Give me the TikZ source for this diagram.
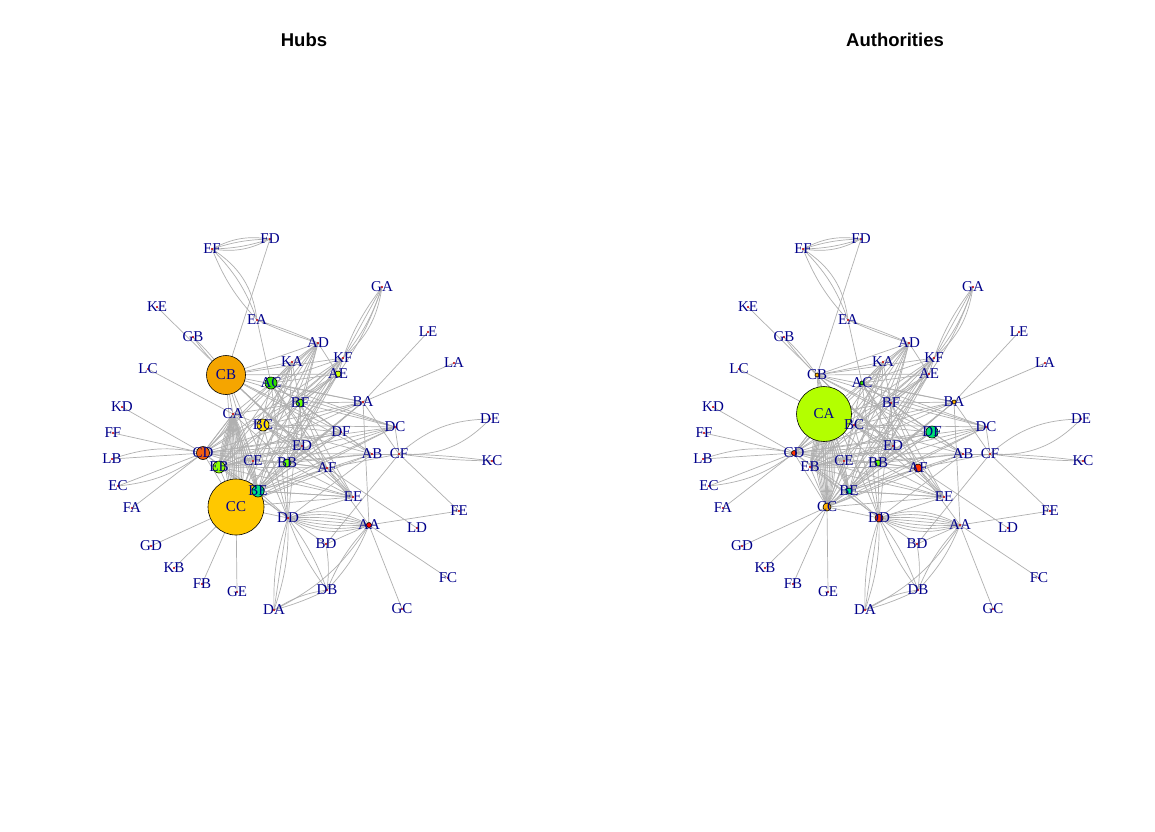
\documentclass[tikz,border=0pt]{standalone}
\usepackage{fontspec}
\setmainfont{Liberation Serif}
\newfontfamily\titlefont{Liberation Sans}
\definecolor{edgegray}{HTML}{B0B0B0}
\definecolor{lblblue}{HTML}{00008B}
\definecolor{hCB}{HTML}{F5A500}
\definecolor{hCC}{HTML}{FFC800}
\definecolor{hCD}{HTML}{F06010}
\definecolor{hAC}{HTML}{33E000}
\definecolor{hBC}{HTML}{FFE000}
\definecolor{hEB}{HTML}{8CFF00}
\definecolor{hBE}{HTML}{00E080}
\definecolor{hBF}{HTML}{66FF00}
\definecolor{hAE}{HTML}{CCFF00}
\definecolor{aCA}{HTML}{B3FF00}
\definecolor{aDF}{HTML}{00E070}
\definecolor{aRed}{HTML}{FF3300}
\definecolor{aOr}{HTML}{FFB000}
\tikzset{
  edge/.style={draw=edgegray, line width=0.7pt},
  tinyv/.style={circle, inner sep=0pt, minimum size=2.4pt, fill=red!80!black},
  vtx/.style={circle, draw=black, line width=0.6pt, inner sep=0pt},
  lbl/.style={text=lblblue, font=\fontsize{15}{15}\selectfont, inner sep=0pt},
  ttl/.style={font=\titlefont\bfseries\fontsize{18.5}{20}\selectfont, inner sep=0pt}
}
\newcommand\mynodelist{EF/212/249, FD/270/239, KE/157/307, GB/193/337, EA/257/320, AD/318/343, GA/382/287, LE/428/332, LA/454/363, KA/292/362, KF/343/358, AE/338/374, LC/148/369, CB/226/375, AC/271/383, BA/363/402, BF/300/403, KD/122/407, CA/233/414, BC/263/425, DC/395/427, DE/490/419, DF/341/432, FF/113/433, ED/302/446, CD/203/453, AB/372/454, CF/399/454, KC/492/461, LB/112/459, EB/219/467, CE/253/461, BB/287/463, AF/327/468, EC/118/486, BE/258/491, EE/353/497, CC/236/507, FA/132/508, FE/459/511, DD/288/518, AA/369/525, LD/417/528, GD/151/546, BD/326/544, KB/174/568, FC/448/578, FB/202/584, GE/237/592, DB/327/590, DA/274/610, GC/402/609}
\newcommand\myedgelist{EF/FD/8, EF/FD/18, EF/FD/-8, EF/FD/-18, EF/EA/25, EF/EA/12, EF/EA/-10, FD/CB/0, EA/AC/0, EA/AD/3, EA/AD/-3, KE/CB/0, GB/CB/5, GB/CB/-5, LC/CA/0, KD/CD/0, FF/CD/0, LB/CD/0, LB/CD/15, EC/CD/0, EC/CD/-15, FA/CD/0, GD/CC/0, KB/CC/0, FB/CC/0, GE/CC/0, GA/KF/20, GA/KF/10, GA/KF/0, GA/AE/-10, GA/AE/8, LE/BA/0, LA/BA/0, DE/CF/25, DE/CF/-20, KC/CF/3, KC/CF/-3, FE/CF/0, CF/AB/0, CF/DC/0, CF/BA/0, CF/BD/0, CF/AF/0, FE/AA/0, FC/AA/0, GC/AA/0, LD/BC/0, DD/AA/-24, DD/AA/-16, DD/AA/-8, DD/AA/0, DD/AA/8, DD/AA/16, DD/AA/24, DD/DA/10, DD/DA/-10, DD/DA/0, DD/DB/8, DD/DB/-8, DA/DB/12, DA/DB/-5, DB/AA/10, DB/AA/-10, BD/AA/0, DA/AA/-15, BD/DD/0, BD/DB/8, AA/BA/0, AA/AF/0, DD/EE/0, DD/AB/0, EE/AF/0, EE/BE/0, CA/CC/-20, CA/CC/-16, CA/CC/-12, CA/CC/-8, CA/CC/-4, CA/CC/0, CA/CC/4, CA/CC/8, CA/CC/12, CA/CC/16, CA/CC/20, CA/EB/-10, CA/EB/-5, CA/EB/0, CA/EB/5, CA/EB/10, CA/BE/-10, CA/BE/-5, CA/BE/0, CA/BE/5, CA/BE/10, CA/CD/0, CA/CD/10, KA/AD/0, AD/AE/0, CB/CC/0, CD/CC/0, CD/BE/0, EB/CC/0, CE/CC/0}
\newcommand\drawpanel[3]{%
  \begin{scope}[xshift=#2]
    \foreach \n/\x/\y in \mynodelist {\coordinate (#1\n) at (\x,\y);}
    \foreach \a/\b/\c in \myedgelist {\draw[edge] (#1\a) to[bend left=\c] (#1\b);}
    \foreach \a in {CB,CC,CD,AC,BC,EB,BE,BF,BB} {%
      \foreach \b in {CA,DF,AF,DD,BA,AB,ED,DC,KA,AD,AE,KF,CE,EE} {\draw[edge] (#1\a) -- (#1\b);}}
    \foreach \n/\x/\y in \mynodelist {\node[tinyv] (#1\n v) at (#1\n) {};}
    \foreach \n/\r/\col in {#3} {\node[vtx, minimum size=\r, fill=\col] (#1\n w) at (#1\n) {};}
    \foreach \n/\x/\y in \mynodelist {\node[lbl] (#1\n t) at (#1\n) {\n};}
  \end{scope}}
\begin{document}
\begin{tikzpicture}[x=1pt,y=-1pt]
\useasboundingbox (0,0) rectangle (1155,831);
\fill[white] (0,0) rectangle (1155,831);
\node[ttl] (t1) at (304,40) {Hubs};
\node[ttl] (t2) at (895,40) {Authorities};
\drawpanel{h}{0pt}{CB/39/hCB, CC/56/hCC, CD/13/hCD, AC/12/hAC, BC/12/hBC, EB/12/hEB, BE/12/hBE, BF/8/hBF, BB/8/hBF, AE/6/hAE, AA/5/red}
\drawpanel{a}{591pt}{CA/55/aCA, DF/12/aDF, AF/8/aRed, DD/8/aRed, CC/8/aOr, CD/5/aRed, BB/6/hBF, BE/6/hBE, AC/4/hAC, CB/4/aOr, BA/4/aOr}
\end{tikzpicture}
\end{document}
